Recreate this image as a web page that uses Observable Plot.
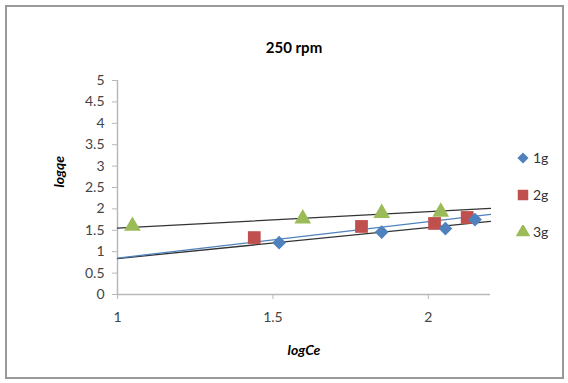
<!DOCTYPE html>
<html>
<head>
<meta charset="utf-8">
<script src="https://cdn.jsdelivr.net/npm/d3@7"></script>
<script src="https://cdn.jsdelivr.net/npm/@observablehq/plot@0.6"></script>
<style>
  html, body { margin: 0; padding: 0; background: #fff; }
  #wrap { position: relative; width: 568px; height: 383px; font-family: Lato, "Open Sans", sans-serif; }
  #border { position: absolute; left: 5px; top: 5px; width: 559px; height: 374px; border: 2px solid #999; box-sizing: border-box; pointer-events: none; }
  #legend { position: absolute; left: 516px; top: 139px; font-size: 14px; color: #333; }
  .li { display: flex; align-items: center; height: 37px; margin: 0; }
  .li svg { margin-right: 3px; }
</style>
</head>
<body>
<div id="wrap"><div id="chart"></div><div id="legend"></div><div id="border"></div></div>
<script>
const title = "250 rpm";
const xLabel = "logCe";
const yLabel = "logqe";
const xTicks = [1, 1.5, 2];
const yTicks = [0, 0.5, 1, 1.5, 2, 2.5, 3, 3.5, 4, 4.5, 5];
const seriesNames = ["1g", "2g", "3g"];
const seriesColors = ["#4F81BD", "#C0504D", "#9BBB59"];

const x1g = [1.52, 1.85, 2.055, 2.15];
const y1g = [1.21, 1.46, 1.54, 1.75];
const x2g = [1.44, 1.785, 2.02, 2.125];
const y2g = [1.33, 1.59, 1.66, 1.80];
const x3g = [1.048, 1.596, 1.85, 2.04];
const y3g = [1.60, 1.77, 1.90, 1.93];

// trendlines (start/end values)
const trendX = [1, 2.2];
const trendA = [0.84, 1.71]; // black
const trendB = [0.85, 1.87]; // blue
const trendC = [1.55, 2.01]; // black (3g)

const toPts = (xa, ya) => xa.map((x, j) => ({x, y: ya[j]}));
const trends = [
  {vals: trendA, color: "#333"},
  {vals: trendB, color: "#4F81BD"},
  {vals: trendC, color: "#333"}
].flatMap((t, k) => trendX.map((x, j) => ({k, x, y: t.vals[j], color: t.color})));

const axisColor = "#b8b8b8";
const chart = Plot.plot({
  width: 568, height: 383,
  marginLeft: 117, marginRight: 78, marginTop: 80, marginBottom: 89,
  style: {fontFamily: "Lato, 'Open Sans', sans-serif", fontSize: "14px", color: "#444", background: "transparent"},
  x: {domain: [1, 2.2]},
  y: {domain: [0, 5]},
  marks: [
    Plot.ruleY([0], {stroke: axisColor, strokeWidth: 1.5}),
    Plot.ruleX([1], {stroke: axisColor, strokeWidth: 1.5}),
    Plot.axisX({ticks: xTicks, tickSize: 5, tickPadding: 13, stroke: axisColor, fill: "#444", tickFormat: d => String(d), label: null}),
    Plot.axisY({ticks: yTicks, tickSize: 5, tickPadding: 8, stroke: axisColor, fill: "#444", tickFormat: d => String(d), label: null}),
    Plot.line(trends, {x: "x", y: "y", z: "k", stroke: d => d.color, strokeWidth: 1.3}),
    Plot.dot(toPts(x3g, y3g), {x: "x", y: "y", symbol: "triangle", fill: seriesColors[2], r: 6.2}),
    Plot.dot(toPts(x2g, y2g), {x: "x", y: "y", symbol: "square", fill: seriesColors[1], r: 7.2}),
    Plot.dot(toPts(x1g, y1g), {x: "x", y: "y", symbol: "diamond2", fill: seriesColors[0], r: 6.2}),
    Plot.text([title], {frameAnchor: "top", dx: -10, dy: -38, fontWeight: "bold", fontSize: 15, fill: "#000"}),
    Plot.text([xLabel], {frameAnchor: "bottom", dy: 60, fontWeight: "bold", fontStyle: "italic", fontSize: 14, fill: "#000"}),
    Plot.text([yLabel], {frameAnchor: "left", dx: -58, rotate: -90, fontWeight: "bold", fontStyle: "italic", fontSize: 14, fill: "#000"})
  ]
});
document.getElementById("chart").appendChild(chart);

const legend = document.getElementById("legend");
seriesNames.forEach((s, i) => {
  const row = document.createElement("div");
  row.className = "li";
  const symType = [d3.symbolDiamond2, d3.symbolSquare, d3.symbolTriangle][i];
  const size = [80, 110, 90][i];
  const path = d3.symbol(symType, size)();
  row.innerHTML = `<svg width="14" height="14" viewBox="-7 -7 14 14"><path d="${path}" fill="${seriesColors[i]}"/></svg><span>${s}</span>`;
  legend.appendChild(row);
});
</script>
</body>
</html>
